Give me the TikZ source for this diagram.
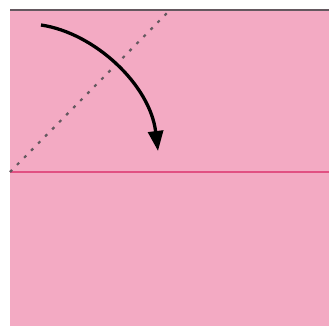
\documentclass[tikz,border=0pt]{standalone}
\usetikzlibrary{arrows.meta}

\definecolor{paperpink}{RGB}{243,170,195}
\definecolor{creasered}{RGB}{225,80,130}
\definecolor{edgegray}{RGB}{100,88,95}

\begin{document}
\begin{tikzpicture}[x=1pt, y=-1pt, >={Triangle[length=20pt,width=15pt]}]

% --- 样式 ---
\tikzset{
  paper/.style={fill=paperpink},
  crease/.style={creasered, line width=1.3pt},
  valley/.style={edgegray, line width=2.2pt, dash pattern=on 3pt off 7pt},
  foldarrow/.style={black, line width=3.3pt, ->}
}

% --- 参数 ---
\def\paperLeft{10}
\def\paperTop{10}
\def\midY{172}

% --- 定义关键点 ---
\coordinate (TL) at (\paperLeft, \paperTop);
\coordinate (BR) at (329, 326);
\coordinate (ML) at (\paperLeft, \midY);
\coordinate (MR) at (329, \midY);
\coordinate (DTop) at (170, \paperTop);
\coordinate (DLeft) at (\paperLeft, \midY);
\coordinate (AStart) at (41, 25);
\coordinate (AEnd) at (158, 151);

\useasboundingbox (0,0) rectangle (329,326);

% --- 纸 ---
\fill[paper] (TL) rectangle (BR);
\draw[edgegray, line width=1.5pt] (TL) -- (329, \paperTop);

% --- 折痕 ---
\draw[crease] (ML) -- (MR);
\draw[valley] (DLeft) -- (DTop);

% --- 箭头 ---
\draw[foldarrow] (AStart) .. controls (95,33) and (150,85) .. (AEnd);

\end{tikzpicture}
\end{document}
